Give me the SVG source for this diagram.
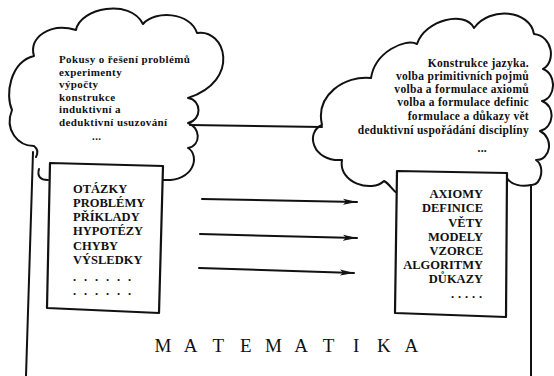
<svg xmlns="http://www.w3.org/2000/svg" width="554" height="376" viewBox="0 0 554 376">
<style>
.ln{fill:none;stroke:#111;stroke-width:2;stroke-linecap:round;stroke-linejoin:round}
.bx{fill:#fff;stroke:#111;stroke-width:2.2;stroke-linejoin:round}
.t{font-family:"Liberation Serif","DejaVu Serif",serif;font-weight:bold;font-size:11px;letter-spacing:0.4px;fill:#111}
.b{font-family:"Liberation Serif","DejaVu Serif",serif;font-weight:bold;font-size:12.5px;fill:#111}
.m{font-family:"Liberation Serif","DejaVu Serif",serif;font-size:19px;fill:#111;text-anchor:middle}
</style>
<defs>
<marker id="ah" markerUnits="userSpaceOnUse" markerWidth="15" markerHeight="8" refX="14" refY="4" orient="auto">
<path d="M0,1 L14,4 L0,7 L3,4 z" fill="#111"/>
</marker>
</defs>
<rect width="554" height="376" fill="#fff"/>

<g id="frame">
<path class="ln" d="M33,152 L26,376"/>
<path class="ln" d="M531,185 L531,376"/>
</g>

<g id="cloud-left">
<path class="ln" d="M36,157 C38,153 38,149 34,146 C18,146 4,130 12,110 C5,95 10,62 34,56 C28,38 50,22 76,30 C80,8 130,-2 143,24 C155,10 190,12 197,33 C225,28 242,80 188,98 C202,100 202,120 188,123 C200,127 202,145 188,148 C200,155 195,182 163,180"/>
<path class="ln" d="M48,180 C40,180 37,176 39,169"/>
<text class="t" x="59" y="63">Pokusy o řešení problémů</text>
<text class="t" x="59" y="75.5">experimenty</text>
<text class="t" x="59" y="88">výpočty</text>
<text class="t" x="59" y="100.5">konstrukce</text>
<text class="t" x="59" y="113">induktivní a</text>
<text class="t" x="59" y="125.5">deduktivní usuzování</text>
<text class="t" x="92" y="140">...</text>
</g>

<g id="cloud-right">
<path class="ln" d="M397,193 C392,190 390,184 384,181 C372,193 338,183 342,160 C312,162 305,132 322,125 C315,95 345,75 371,78 C375,52 405,38 417,44 C425,20 465,10 474,28 C490,6 530,10 534,34 C553,36 556,62 543,69 C557,74 556,98 542,101 C556,106 554,128 540,131 C554,138 551,160 536,160 C545,165 542,186 531,185 C522,187 511,185 507,178"/>
<g class="t" text-anchor="end" style="font-size:11.5px;letter-spacing:0.3px">
<text x="529" y="67">Konstrukce jazyka.</text>
<text x="529" y="80">volba primitivních pojmů</text>
<text x="529" y="93">volba a formulace axiomů</text>
<text x="529" y="106">volba a formulace definic</text>
<text x="529" y="120">formulace a důkazy vět</text>
<text x="529" y="134">deduktivní uspořádání disciplíny</text>
<text x="487" y="152">...</text>
</g>
</g>

<g id="box-left">
<path class="bx" d="M50,163 L163,166 L159,313 L47,308 Z"/>
<text class="b" x="73" y="193">OTÁZKY</text>
<text class="b" x="73" y="207">PROBLÉMY</text>
<text class="b" x="73" y="221">PŘÍKLADY</text>
<text class="b" x="73" y="235">HYPOTÉZY</text>
<text class="b" x="73" y="250">CHYBY</text>
<text class="b" x="73" y="264">VÝSLEDKY</text>
<text class="b" x="73 84 95 106 117 128" y="281">......</text>
<text class="b" x="73 84 95 106 117 128" y="295">......</text>
</g>

<g id="box-right">
<path class="bx" d="M397,171 L507,173 L506,317 L395,313 Z"/>
<g class="b" text-anchor="end">
<text x="483" y="198">AXIOMY</text>
<text x="483" y="212">DEFINICE</text>
<text x="483" y="227">VĚTY</text>
<text x="483" y="241">MODELY</text>
<text x="483" y="255">VZORCE</text>
<text x="483" y="269">ALGORITMY</text>
<text x="483" y="283">DŮKAZY</text>
</g>
<text class="b" x="451 458 465 472 479" y="298">.....</text>
</g>

<g id="connectors">
<path class="ln" d="M190,125 L322,127"/>
<path class="ln" d="M202,199 L357,202" marker-end="url(#ah)"/>
<path class="ln" d="M200,234 L357,238" marker-end="url(#ah)"/>
<path class="ln" d="M199,268 L354,273" marker-end="url(#ah)"/>
</g>

<g id="title">
<text class="m" x="163 190.6 218.2 245.8 273.4 301 328.6 356.2 383.8 411.4" y="352">MATEMATIKA</text>
</g>
</svg>
